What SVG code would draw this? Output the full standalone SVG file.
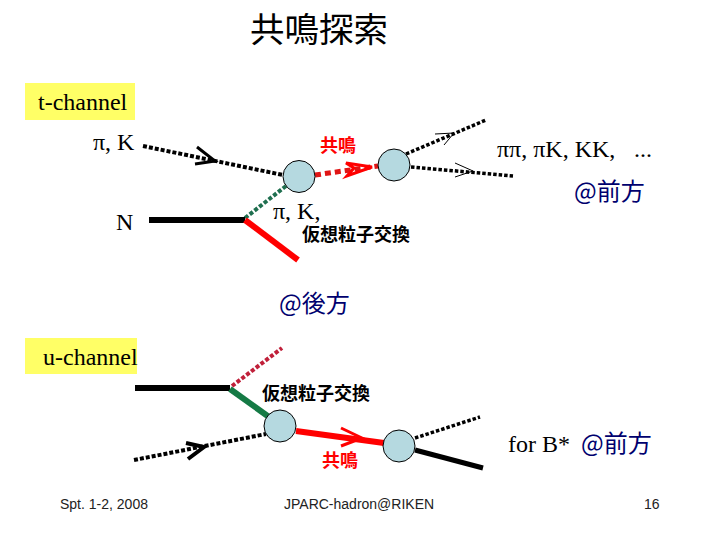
<svg xmlns="http://www.w3.org/2000/svg" width="720" height="540" viewBox="0 0 720 540">
<style>
text{font-family:"Liberation Serif",serif;font-size:24px;fill:#000}
.cjk{font-family:"Noto Sans CJK JP","Noto Sans CJK SC",sans-serif}
.b{font-size:18px;font-weight:700}
.r{fill:#f00}
.blue{fill:#00006e;font-size:24px}
.foot{font-family:"Liberation Sans",sans-serif;font-size:14px;fill:#222}
.blob{fill:#b5d9e0;stroke:#000;stroke-width:1}
.k{stroke:#000;fill:none}
.red{stroke:#f00;fill:none}
.dk{stroke:#000;stroke-width:4;stroke-dasharray:4 2;fill:none}
.dk3{stroke:#000;stroke-width:3.500;stroke-dasharray:3.500 2;fill:none}
</style>
<rect width="720" height="540" fill="#fff"/>
<text x="319" y="42" text-anchor="middle" class="cjk" style="font-size:34.500px">共鳴探索</text>
<g id="t-label"><rect x="25" y="83" width="110" height="37" fill="#ffff66"/><text x="38" y="110">t-channel</text></g>
<g id="u-label"><rect x="25" y="338" width="112" height="36" fill="#ffff66"/><text x="43" y="365">u-channel</text></g>
<g id="connectors">
<path class="dk" d="M143 146L283 175"/>
<path class="k" stroke-width="3" d="M197 147L215 161L195 164"/>
<path d="M245 218L286 186" stroke="#1f6f4f" stroke-width="4" stroke-dasharray="4 2" fill="none"/>
<path class="k" stroke-width="6" d="M149 220H245"/>
<path class="red" stroke-width="6" d="M245 220L298 260"/>
<path d="M315 175L378 166" stroke="#e01515" stroke-width="5" stroke-dasharray="6 4" fill="none"/>
<path class="red" stroke-width="3" fill="#fff" d="M346 163L372 167L347 176L354 168Z"/>
<path class="dk3" d="M406 154L486 120"/>
<path class="k" d="M435 134L454 133L444 145"/>
<path class="dk3" d="M411 167L513 176"/>
<path class="k" d="M455 163L473 171L455 177"/>
<path class="k" stroke-width="6" d="M135 388H230"/>
<path d="M232 386L282 348" stroke="#c0203a" stroke-width="4" stroke-dasharray="4 2" fill="none"/>
<path d="M230 389L269 417" stroke="#157a45" stroke-width="6" fill="none"/>
<path class="dk" d="M134 460L266 434"/>
<path class="k" stroke-width="4" d="M186 443L204 447L188 459"/>
<path class="red" stroke-width="6" d="M296 431L384 443"/>
<path class="red" stroke-width="3" d="M341 428L362 438L341 446"/>
<path class="dk3" d="M415 438L480 417"/>
<path class="k" stroke-width="5" d="M415 450L483 468"/>
</g>
<g id="node-1"><circle class="blob" cx="299" cy="176.500" r="16"/></g>
<g id="node-2"><circle class="blob" cx="394" cy="165" r="16"/></g>
<g id="node-3"><circle class="blob" cx="280" cy="426" r="16"/></g>
<g id="node-4"><circle class="blob" cx="399" cy="446" r="16"/></g>
<text x="93" y="150">π, K</text>
<text x="116" y="230">N</text>
<text x="273" y="219">π, K,</text>
<text x="497" y="157">ππ, πK, KK,<tspan x="634">...</tspan></text>
<text x="508" y="452">for B*</text>
<text x="320" y="152" class="cjk b r">共鳴</text>
<text x="302" y="241" class="cjk b">仮想粒子交換</text>
<text x="262" y="400" class="cjk b">仮想粒子交換</text>
<text x="322" y="467" class="cjk b r">共鳴</text>
<text x="574" y="200" class="cjk blue">@前方</text>
<text x="279" y="312" class="cjk blue">@後方</text>
<text x="581" y="452" class="cjk blue">@前方</text>
<text x="60" y="509" class="foot">Spt. 1-2, 2008</text>
<text x="284" y="509" class="foot">JPARC-hadron@RIKEN</text>
<text x="644" y="509" class="foot">16</text>
</svg>
